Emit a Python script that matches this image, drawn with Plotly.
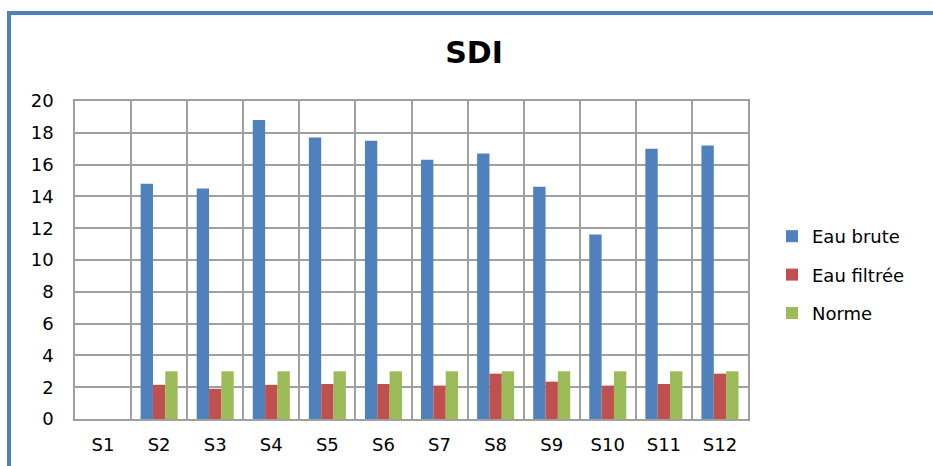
import plotly.graph_objects as go

sites = ["S1", "S2", "S3", "S4", "S5", "S6", "S7", "S8", "S9", "S10", "S11", "S12"]
eau_brute = [None, 14.8, 14.5, 18.8, 17.7, 17.5, 16.3, 16.7, 14.6, 11.6, 17.0, 17.2]
eau_filtree = [None, 2.15, 1.9, 2.15, 2.2, 2.2, 2.1, 2.85, 2.35, 2.1, 2.2, 2.85]
norme = [None, 3, 3, 3, 3, 3, 3, 3, 3, 3, 3, 3]

series = [
    ("Eau brute", eau_brute, "#4f81bd"),
    ("Eau filtrée", eau_filtree, "#c0504d"),
    ("Norme", norme, "#9bbb59"),
]

FONT = "DejaVu Sans"
GRID = "#a0a0a0"

fig = go.Figure()
for name, values, color in series:
    fig.add_trace(go.Bar(
        x=sites, y=values, name=name, legendgroup=name,
        marker=dict(color=color, line=dict(width=0)),
    ))

# plot area in pixels: x 75..748, y 101..419
L, R, T, B = 75, 185, 101, 47
W, H = 933, 466
pw, ph = W - L - R, H - T - B


def px(x):
    return (x - L) / pw


def py(y):
    return (H - B - y) / ph


fig.update_layout(
    width=W, height=H,
    margin=dict(l=L, r=R, t=T, b=B, autoexpand=False),
    paper_bgcolor="white", plot_bgcolor="white",
    font=dict(family=FONT, size=18, color="#000000"),
    title=dict(text="<b>SDI</b>", xref="container", x=474 / W, xanchor="center",
               y=1 - 52 / H, yanchor="middle",
               font=dict(family=FONT, size=30, color="#000000")),
    barmode="group", bargap=0.34, bargroupgap=0,
    showlegend=True,
    legend=dict(x=px(772), xanchor="left", y=py(275), yanchor="middle",
                font=dict(family=FONT, size=18), tracegroupgap=12,
                bgcolor="rgba(0,0,0,0)"),
    shapes=[dict(type="rect", xref="paper", yref="paper",
                 x0=px(9), x1=px(960), y0=py(13), y1=py(500),
                 line=dict(color="#4f81bd", width=4), layer="below")],
)
fig.update_xaxes(
    tickson="boundaries", showgrid=True, gridcolor=GRID, gridwidth=1.5,
    showline=True, linecolor=GRID, linewidth=1.5, mirror=True,
    ticks="", ticklabelstandoff=9, tickfont=dict(size=18), automargin=False,
)
fig.update_yaxes(
    range=[0, 20], dtick=2, showgrid=True, gridcolor=GRID, gridwidth=1.5,
    showline=True, linecolor=GRID, linewidth=1.5, mirror=True,
    ticks="", ticklabelstandoff=16, tickfont=dict(size=18), zeroline=False,
    automargin=False,
)

# the page body has a default 8px margin; drop it so the figure fills the window
fig.write_html("out.html", config={"displayModeBar": False},
               post_script="document.body.style.margin='0px';")
